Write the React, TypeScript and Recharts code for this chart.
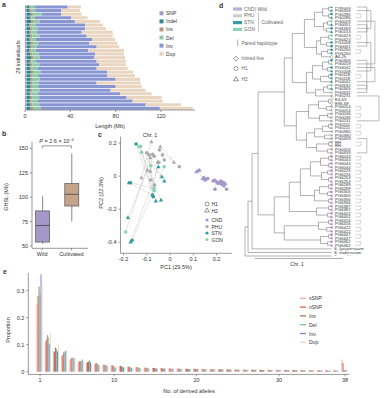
import React from "react";
import { BarChart, Bar, XAxis, YAxis, ComposedChart, ScatterChart, Scatter, ReferenceLine } from "recharts";

const FONT = "'Liberation Sans', Arial, sans-serif";
const INK = "#333";
const AX = { stroke: "#555", strokeWidth: 0.6 };
const tick = { fontSize: 5.5, fill: INK, fontFamily: FONT };

// ---- panel a: genome length per individual (Mb)
const aKeys = ["SNP", "Indel", "Ins", "Del", "Inv", "Dup"];
const aColors: Record<string, string> = {
  SNP: "#a399c9", Indel: "#2c8a8f", Ins: "#b9957a", Del: "#8dcaa5", Inv: "#8895d3", Dup: "#e9d5c0",
};
const aSNP = [1.5, 1.4, 1.6, 1.5, 1.7, 1.5, 1.6, 1.5, 1.6, 1.5, 1.7, 1.6, 1.5, 1.6, 1.7, 1.5, 1.6, 1.6, 1.5, 1.7, 1.6, 1.5, 1.6, 1.7, 1.5, 1.6, 1.5, 1.7, 1.6];
const aIndel = [2.4, 2.6, 3.5, 2.8, 4.0, 2.5, 3.0, 2.7, 3.2, 2.6, 3.4, 2.9, 2.5, 3.1, 3.6, 2.8, 3.3, 2.7, 3.8, 3.0, 3.4, 3.6, 2.9, 3.2, 2.8, 3.0, 2.7, 3.1, 3.3];
const aIns = [1.2, 1.5, 1.8, 1.3, 1.6, 1.4, 2.0, 1.5, 1.7, 1.4, 1.9, 1.6, 1.5, 1.8, 2.1, 1.4, 1.7, 1.6, 1.8, 1.5, 1.9, 1.7, 1.6, 1.8, 1.5, 1.7, 1.6, 1.9, 2.2];
const aDel = [3.8, 3.5, 7.8, 3.2, 5.5, 4.0, 4.8, 4.5, 6.2, 3.9, 4.8, 4.3, 4.0, 5.6, 5.5, 4.1, 6.0, 5.2, 6.6, 5.4, 6.2, 5.0, 5.6, 6.0, 5.8, 6.2, 5.5, 5.9, 7.0];
const aInv = [28.7, 22.8, 17.1, 31.8, 31.2, 43.6, 41.6, 39.8, 41.7, 50.0, 45.0, 52.8, 46.4, 49.7, 48.3, 53.4, 53.0, 52.1, 58.9, 61.0, 66.9, 51.4, 68.3, 62.9, 72.2, 77.2, 83.7, 93.9, 104.9];
const aDup = [11.8, 16.7, 18.2, 14.7, 22.0, 16.0, 18.5, 27.4, 23.0, 20.0, 24.7, 20.0, 31.5, 25.6, 27.0, 25.8, 23.4, 27.4, 23.0, 24.4, 21.5, 38.8, 23.0, 30.9, 28.0, 30.9, 26.5, 31.1, 29.0];
const aRows = aSNP.map((v, i) => ({
  id: i, SNP: v, Indel: aIndel[i], Ins: aIns[i], Del: aDel[i], Inv: aInv[i], Dup: aDup[i],
}));

// ---- panel b: box plot
const boxLabels = ["Wild", "Cultivated"];
const boxMin = [52, 75];
const boxQ1 = [54, 91];
const boxMed = [71, 103];
const boxQ3 = [86, 114];
const boxMax = [101, 145];
const boxColors = ["#a597c7", "#c6a48c"];
const bRows = boxLabels.map((name, i) => ({
  pos: i + 1, name, range: [boxMin[i], boxMax[i]], q1: boxQ1[i], med: boxMed[i], q3: boxQ3[i], fill: boxColors[i],
}));

// ---- panel c: PCA
const groupColors: Record<string, string> = { C: "#a597cc", P: "#aaaaaa", S: "#2f9aa0", G: "#8ad2b2", I: "#b5b5b5" };
const pcX = [-0.146, -0.133, -0.127, -0.122, -0.08, -0.042, -0.1, -0.09, -0.075, -0.068, -0.085, -0.046, -0.033, -0.025, -0.054, -0.048, 0.016, 0.04, -0.083, -0.025,
  -0.05, -0.097, -0.085, -0.123, -0.035, -0.025, -0.177, -0.17, -0.083, -0.068, -0.068, -0.07, -0.076, -0.072, -0.061, -0.039, -0.181, -0.191, -0.17, -0.163,
  0.113, 0.12, 0.127, 0.14, 0.149, 0.145, 0.155, 0.162, 0.185, 0.192, 0.2, 0.206, 0.212, 0.218, 0.222, 0.228, 0.232, 0.243, 0.193, 0.238];
const pcY = [0.194, 0.178, 0.18, 0.144, 0.208, 0.178, 0.14, 0.128, 0.132, 0.12, 0.112, 0.158, 0.127, 0.097, 0.083, 0.083, 0.083, 0.056, 0.062, 0.056,
  0.056, 0.036, 0.03, -0.01, -0.004, -0.03, -0.04, -0.04, -0.024, -0.055, -0.089, -0.075, -0.115, -0.125, -0.15, -0.145, -0.25, -0.338, -0.398, -0.388,
  0.026, 0.032, 0.036, -0.014, -0.024, -0.01, -0.02, -0.015, -0.03, -0.025, -0.035, -0.045, -0.04, -0.03, -0.05, -0.038, -0.06, -0.08, -0.08, -0.045];
const pcGroup = "SGGGPPPPPPPPPPPPPPGGSPPPSSSSPPGGSSSSSGSS" + "CCCCCCCCCCCCCCCCCCCC";
const pcHap = "1111221111211121211122222221111111222121" + "22222111111111111112";
const pcPairs = [[0, 34], [1, 35], [38, 20], [39, 19], [37, 10], [36, 21], [26, 32], [4, 23], [5, 17], [3, 25], [6, 24], [14, 29], [11, 16], [18, 30], [2, 33], [7, 28], [12, 13], [8, 22], [27, 31], [15, 9], [45, 40], [50, 58]];
const pcPoints = pcX.map((x, i) => ({ x, y: pcY[i], g: pcGroup[i], h: pcHap[i] }));

// ---- panel d: cladogram (internal node label = node depth)
const cladeA = "((((0,1)84,(2,3)84)78,((4,5)83,(6,7)82)79)70,(((8,9)84,(10,11)82)76,((12,13)83,14)77)72)60";
const cladeB = "((((15,16)84,(17,18)83)78,((19,20)84,21)76)68,(((22,23)83,24)79,25)71)62";
const cladeP = "((((26,27)84,(28,29)82)74,((30,31)83,32)75)64,((((33,34)84,35)78,(36,37)80)70,((38,39)84,(40,41)83)72)62)52";
const cladeW = "((((((42,43)84,(44,45)84)76,((46,47)83,(48,49)84)77)66,(((50,51)84,(52,53)83)75,(54,55)84)70)56,((56,57)84,(58,59)83)72)45,(((60,61)84,(62,63)82)74,((64,65)84,(66,67)83)76)40)30";
const treeNewick = "((((((" + cladeA + "," + cladeB + ")48," + cladeP + ")40," + cladeW + ")14,68)8,69)4,70)1";
const leafNames = [
  "PG0153", "PG6359", "PG0286", "PG0286", "PG0019", "PG0051", "PG6359", "PG0153", "PG0423", "PG0423",
  "PG1008", "PG0051", "PG5250", "PG5250", "A6-26", "PG0305", "PG0019", "PG4042", "PG1008", "PG0118",
  "PG0118", "PG4042", "PG0532", "PG0305", "PG0532", "PG0231",
  "E4-63", "E86-69", "PG0014", "PG0014", "PG0036", "PG0036", "PG0231", "PG0211", "PG0211", "PG0390",
  "PG0390", "PG0459", "RH", "RH", "PG0416", "PG0459",
  "PG6043", "PG6043", "PG6044", "PG6044", "PG6226", "PG6226", "PG6253", "PG6253", "PG6289", "PG6289",
  "PG6305", "PG6305", "PG6356", "PG6356", "PG6387", "PG6387", "PG6402", "PG6402", "PG6416", "PG6416",
  "PG6422", "PG6422", "PG6447", "PG6447", "PG6462", "PG6462",
  "S. lycopersicum", "S. etuberosum", "S. wrightii",
];
const leafGroup = "SSSSGSSSGGSSSSISGSSSSSGSGP" + "IIPPPPPPPPPPPPPP" + "CCCCCCCCCCCCCCCCCCCCCCCCCC" + "OOO";
const leafHap = "12121212121112012121221221" + "0012122121211212" + "12121212121212121212121212" + "000";
const treePairs = [
  [2, 3, 0], [8, 9, 0], [12, 13, 0], [19, 20, 0], [28, 29, 0], [30, 31, 0], [33, 34, 0], [35, 36, 0], [38, 39, 0],
  [42, 43, 0], [44, 45, 0], [46, 47, 0], [48, 49, 0], [50, 51, 0], [52, 53, 0], [54, 55, 0], [56, 57, 0], [58, 59, 0],
  [60, 61, 0], [62, 63, 0], [64, 65, 0], [66, 67, 0],
  [0, 7, 1], [1, 6, 2], [4, 16, 3], [5, 11, 1], [10, 18, 2], [15, 23, 1], [17, 21, 3], [22, 24, 1], [25, 32, 4], [37, 41, 1],
];
const TIP = 87;

// ---- panel e: derived allele frequency spectrum
const eN = [1, 2, 3, 4, 5, 6, 7, 8, 9, 10, 11, 12, 13, 14, 15, 16, 17, 18, 19, 20, 21, 22, 23, 24, 25, 26, 27, 28, 29, 30, 31, 32, 33, 34, 35, 36, 37, 38];
const eSNPs = [0.25, 0.11, 0.075, 0.058, 0.045, 0.037, 0.033, 0.03, 0.027, 0.024, 0.021, 0.019, 0.017, 0.016, 0.015, 0.014, 0.013, 0.012, 0.012, 0.011, 0.011, 0.010, 0.010, 0.009, 0.009, 0.008, 0.008, 0.008, 0.007, 0.007, 0.007, 0.006, 0.006, 0.006, 0.006, 0.005, 0.006, 0.045];
const eNSNP = [0.28, 0.118, 0.075, 0.062, 0.047, 0.038, 0.035, 0.03, 0.026, 0.024, 0.021, 0.018, 0.017, 0.015, 0.014, 0.013, 0.012, 0.012, 0.011, 0.011, 0.010, 0.010, 0.009, 0.009, 0.008, 0.008, 0.008, 0.007, 0.007, 0.007, 0.006, 0.006, 0.006, 0.005, 0.005, 0.005, 0.005, 0.032];
const eIns = [0.315, 0.135, 0.09, 0.072, 0.053, 0.04, 0.038, 0.032, 0.025, 0.022, 0.02, 0.018, 0.016, 0.015, 0.014, 0.013, 0.012, 0.011, 0.011, 0.010, 0.010, 0.009, 0.009, 0.008, 0.008, 0.007, 0.007, 0.007, 0.006, 0.006, 0.006, 0.005, 0.005, 0.005, 0.005, 0.004, 0.004, 0.006];
const eDel = [0.29, 0.128, 0.085, 0.074, 0.052, 0.038, 0.042, 0.028, 0.022, 0.02, 0.018, 0.016, 0.015, 0.014, 0.013, 0.012, 0.011, 0.011, 0.010, 0.010, 0.009, 0.009, 0.008, 0.008, 0.007, 0.007, 0.007, 0.006, 0.006, 0.006, 0.005, 0.005, 0.005, 0.005, 0.004, 0.004, 0.004, 0.005];
const eInv = [0.36, 0.103, 0.076, 0.078, 0.05, 0.045, 0.035, 0.025, 0.023, 0.015, 0.016, 0.014, 0.013, 0.013, 0.012, 0.012, 0.011, 0.010, 0.010, 0.010, 0.009, 0.009, 0.008, 0.008, 0.008, 0.007, 0.007, 0.006, 0.006, 0.006, 0.006, 0.005, 0.005, 0.005, 0.005, 0.004, 0.004, 0.007];
const eDup = [0.33, 0.143, 0.098, 0.07, 0.052, 0.04, 0.03, 0.025, 0.022, 0.02, 0.017, 0.016, 0.015, 0.013, 0.013, 0.012, 0.011, 0.011, 0.010, 0.010, 0.009, 0.009, 0.008, 0.008, 0.008, 0.007, 0.007, 0.007, 0.006, 0.006, 0.006, 0.005, 0.005, 0.005, 0.004, 0.004, 0.004, 0.004];
const eKeys = ["sSNP", "nSNP", "Ins", "Del", "Inv", "Dup"];
const eColors: Record<string, string> = {
  sSNP: "#f4a7a7", nSNP: "#e0604f", Ins: "#a47b5e", Del: "#78c497", Inv: "#6f87d8", Dup: "#ecd6c0",
};
const eRows = eN.map((n, i) => ({
  n, sSNP: eSNPs[i], nSNP: eNSNP[i], Ins: eIns[i], Del: eDel[i], Inv: eInv[i], Dup: eDup[i],
}));

// ---------- helpers
function parseTree(s: string) {
  let i = 0;
  const num = () => {
    const j = i;
    while (i < s.length && /[0-9.]/.test(s[i])) i++;
    return parseFloat(s.slice(j, i));
  };
  const node = (): any => {
    if (s[i] === "(") {
      i++;
      const kids = [node()];
      while (s[i] === ",") { i++; kids.push(node()); }
      i++;
      return { kids, depth: num() };
    }
    return { leaf: num() };
  };
  return node();
}

function treeSegments() {
  const segs: { x1: number; y1: number; x2: number; y2: number }[] = [];
  const lay = (n: any) => {
    if (!n.kids) { n.x = TIP; n.y = n.leaf; return; }
    n.kids.forEach(lay);
    n.x = n.depth;
    const first = n.kids[0], last = n.kids[n.kids.length - 1];
    n.y = (first.y + last.y) / 2;
    segs.push({ x1: n.x, y1: first.y, x2: n.x, y2: last.y });
    n.kids.forEach((k: any) => segs.push({ x1: n.x, y1: k.y, x2: k.x, y2: k.y }));
  };
  lay(parseTree(treeNewick));
  return segs;
}
const treeSegs = treeSegments();
const treeLeaves = leafNames.map((name, i) => ({ x: TIP, y: i, name, g: leafGroup[i], h: leafHap[i] }));

function Marker({ cx, cy, g, h, r }: any) {
  const fill = groupColors[g] || "#999";
  if (g === "I") {
    return <polygon points={`${cx},${cy - r * 1.3} ${cx + r * 1.1},${cy} ${cx},${cy + r * 1.3} ${cx - r * 1.1},${cy}`} fill="#fff" stroke="#555" strokeWidth={0.4} />;
  }
  if (h === "2") {
    return <polygon points={`${cx},${cy - r * 1.25} ${cx + r * 1.15},${cy + r * 0.85} ${cx - r * 1.15},${cy + r * 0.85}`} fill={fill} stroke="none" />;
  }
  return <circle cx={cx} cy={cy} r={r} fill={fill} stroke="none" />;
}

function BoxShape(props: any) {
  const { x, y, width, height, payload } = props;
  const top = Math.min(y, y + height);
  const h = Math.abs(height);
  const [lo, hi] = payload.range;
  const py = (v: number) => top + (h * (hi - v)) / (hi - lo);
  const cx = x + width / 2;
  return (
    <g>
      <line x1={cx} x2={cx} y1={top} y2={top + h} stroke="#555" strokeWidth={0.7} />
      <rect x={x} y={py(payload.q3)} width={width} height={py(payload.q1) - py(payload.q3)} fill={payload.fill} stroke="#555" strokeWidth={0.7} />
      <line x1={x} x2={x + width} y1={py(payload.med)} y2={py(payload.med)} stroke="#444" strokeWidth={0.8} />
    </g>
  );
}

function ETick({ x, y, payload }: any) {
  if (![1, 10, 20, 30, 38].includes(payload.value)) return null;
  return (
    <text x={x} y={y} dy="0.71em" textAnchor="middle" fontSize={5.5} fill={INK} fontFamily={FONT}>{payload.value}</text>
  );
}

function T({ x, y, t, s = 5.5, a = "start", r = false, b = false, it = false, fill = INK }: any) {
  return (
    <text x={x} y={y} fontSize={s} textAnchor={a} dominantBaseline="central" fill={fill}
      fontWeight={b ? 700 : 400} fontStyle={it ? "italic" : "normal"}
      transform={r ? `rotate(-90 ${x} ${y})` : undefined}>{t}</text>
  );
}

const box = (left: number, top: number): React.CSSProperties => ({ position: "absolute", left, top });

export default function App() {
  return (
    <div style={{ position: "absolute", left: 0, top: 0, width: 390, height: 398, background: "#fff", fontFamily: FONT, overflow: "hidden" }}>
      {/* a */}
      <div style={box(0, 0)}>
        <BarChart width={200} height={130} data={aRows} layout="vertical" margin={{ top: 5, right: 5, left: 25, bottom: 0 }} barCategoryGap="12%">
          <XAxis type="number" domain={[0, 150]} ticks={[0, 40, 80, 120]} allowDataOverflow height={20} tick={tick} tickSize={2} tickLine={AX} axisLine={AX} />
          <YAxis type="category" dataKey="id" width={0} tick={false} tickLine={false} axisLine={AX} />
          {aKeys.map((k) => (
            <Bar key={k} dataKey={k} stackId="s" fill={aColors[k]} isAnimationActive={false} />
          ))}
        </BarChart>
      </div>

      {/* b */}
      <div style={box(0, 130)}>
        <ComposedChart width={95} height={130} data={bRows} margin={{ top: 11.7, right: 7, left: 0, bottom: 0 }}>
          <XAxis type="number" dataKey="pos" domain={[0.65, 2.57]} ticks={[1, 2]} allowDataOverflow tickFormatter={(v) => boxLabels[v - 1]} height={11.7} tick={tick} tickSize={2} tickLine={AX} axisLine={AX} />
          <YAxis type="number" domain={[47.6, 157]} ticks={[50, 75, 100, 125, 150]} allowDataOverflow width={32} tick={tick} tickSize={2} tickLine={AX} axisLine={AX} />
          <Bar dataKey="range" barSize={14} shape={BoxShape} isAnimationActive={false} />
          <ReferenceLine segment={[{ x: 1, y: 150 }, { x: 1, y: 152.7 }]} stroke="#555" strokeWidth={0.6} ifOverflow="visible" />
          <ReferenceLine segment={[{ x: 1, y: 152.7 }, { x: 2, y: 152.7 }]} stroke="#555" strokeWidth={0.6} ifOverflow="visible" />
          <ReferenceLine segment={[{ x: 2, y: 152.7 }, { x: 2, y: 150 }]} stroke="#555" strokeWidth={0.6} ifOverflow="visible" />
        </ComposedChart>
      </div>

      {/* c */}
      <div style={box(95, 130)}>
        <ScatterChart width={140} height={135} margin={{ top: 6.7, right: 3.3, left: 0, bottom: 0 }}>
          <XAxis type="number" dataKey="x" domain={[-0.213, 0.265]} ticks={[-0.2, -0.1, 0, 0.1, 0.2]} allowDataOverflow tickFormatter={(v) => (v === 0 ? "0" : v.toFixed(1))} height={11.7} tick={tick} tickSize={2} tickLine={AX} axisLine={AX} />
          <YAxis type="number" dataKey="y" domain={[-0.467, 0.238]} ticks={[-0.4, -0.2, 0, 0.2]} allowDataOverflow tickFormatter={(v) => (v === 0 ? "0" : v.toFixed(1))} width={25.5} tick={tick} tickSize={2} tickLine={AX} axisLine={AX} />
          {pcPairs.map(([i, j], k) => (
            <ReferenceLine key={k} segment={[{ x: pcX[i], y: pcY[i] }, { x: pcX[j], y: pcY[j] }]} stroke="#9a9a9a" strokeWidth={0.45} strokeDasharray="1 0.8" ifOverflow="visible" />
          ))}
          <Scatter data={pcPoints} isAnimationActive={false}
            shape={(p: any) => <Marker cx={p.cx} cy={p.cy} g={p.payload.g} h={p.payload.h} r={1.8} />} />
        </ScatterChart>
      </div>

      {/* d */}
      <div style={box(230, 0)}>
        <ScatterChart width={160} height={270} margin={{ top: 7, right: 0, left: 14, bottom: 14 }}>
          <XAxis type="number" dataKey="x" domain={[0, 145]} hide allowDataOverflow />
          <YAxis type="number" dataKey="y" domain={[0, 70]} reversed hide allowDataOverflow />
          {treeSegs.map((s, k) => (
            <ReferenceLine key={"t" + k} segment={[{ x: s.x1, y: s.y1 }, { x: s.x2, y: s.y2 }]} stroke="#7d7d7d" strokeWidth={0.6} ifOverflow="visible" />
          ))}
          {treePairs.map(([i, j, lane], k) => {
            const xc = lane === 0 ? 116 : 118 + lane * 4;
            const dash = lane === 0 ? "1 0.8" : undefined;
            const x0 = lane === 0 ? 111 : 112;
            return (
              <React.Fragment key={"p" + k}>
                <ReferenceLine segment={[{ x: x0, y: i }, { x: xc, y: i }]} stroke="#666" strokeWidth={0.45} strokeDasharray={dash} ifOverflow="visible" />
                <ReferenceLine segment={[{ x: xc, y: i }, { x: xc, y: j }]} stroke="#666" strokeWidth={0.45} strokeDasharray={dash} ifOverflow="visible" />
                <ReferenceLine segment={[{ x: x0, y: j }, { x: xc, y: j }]} stroke="#666" strokeWidth={0.45} strokeDasharray={dash} ifOverflow="visible" />
              </React.Fragment>
            );
          })}
          <Scatter data={treeLeaves} isAnimationActive={false}
            shape={(p: any) => {
              const d = p.payload;
              const out = d.g === "O";
              return (
                <g>
                  {!out && <Marker cx={p.cx} cy={p.cy} g={d.g} h={d.h} r={1.3} />}
                  <text x={p.cx + (out ? 2.5 : 3.5)} y={p.cy} dominantBaseline="central" fontSize={4.2} fill={INK} fontFamily={FONT} fontStyle={out ? "italic" : "normal"}>{d.name}</text>
                </g>
              );
            }} />
        </ScatterChart>
      </div>

      {/* e */}
      <div style={box(0, 268)}>
        <BarChart width={390} height={130} data={eRows} margin={{ top: 5, right: 40.9, left: 0, bottom: 0 }} barCategoryGap="8%" barGap={0}>
          <XAxis type="number" dataKey="n" domain={[-0.42, 38.5]} ticks={[1, 10, 20, 30, 38]} allowDataOverflow height={23.6} tick={tick} tickSize={2} tickLine={AX} axisLine={AX} />
          <YAxis type="number" domain={[-0.0099, 0.365]} ticks={[0, 0.1, 0.2, 0.3]} allowDataOverflow width={28.3} tick={tick} tickSize={2} tickLine={AX} axisLine={AX} />
          {eKeys.map((k) => (
            <Bar key={k} dataKey={k} fill={eColors[k]} isAnimationActive={false} />
          ))}
        </BarChart>
      </div>

      {/* text, legends */}
      <svg width={390} height={398} style={{ position: "absolute", left: 0, top: 0, pointerEvents: "none" }} fontFamily={FONT}>
        <T x={2} y={4} t="a" s={7} b />
        <T x={2} y={133} t="b" s={7} b />
        <T x={98} y={134} t="c" s={7} b />
        <T x={219} y={5} t="d" s={7} b />
        <T x={3} y={271} t="e" s={7} b />

        <T x={18} y={57} t="29 individuals" a="middle" r />
        <T x={110} y={125.5} t="Length (Mb)" a="middle" />
        {aKeys.map((k, i) => (
          <g key={k}>
            <rect x={159.5} y={13.3 + i * 8.08 - 2} width={4} height={4} fill={aColors[k]} />
            <T x={166} y={13.3 + i * 8.08} t={k} s={5} />
          </g>
        ))}

        <T x={6} y={197} t="GHSL (Mb)" a="middle" r />
        <text x={56.5} y={141.3} fontSize={5.5} textAnchor="middle" dominantBaseline="central" fill={INK}>
          <tspan fontStyle="italic">P</tspan> = 2.6 × 10<tspan fontSize={3.8} dy={-1.8}>−4</tspan>
        </text>

        <T x={150} y={135} t="Chr. 1" a="middle" />
        <T x={101} y={193} t="PC2 (22.3%)" a="middle" r />
        <T x={176} y={267} t="PC1 (29.5%)" a="middle" />
        <circle cx={207} cy={204} r={2} fill="none" stroke="#333" strokeWidth={0.5} />
        <T x={211.5} y={204} t="H1" s={5} />
        <polygon points="207,208 209.3,212 204.7,212" fill="none" stroke="#333" strokeWidth={0.5} />
        <T x={211.5} y={210.5} t="H2" s={5} />
        {[["C", "CND"], ["P", "PHU"], ["S", "STN"], ["G", "GON"]].map(([g, name], i) => (
          <g key={g}>
            <circle cx={207} cy={220 + i * 6.5} r={1.6} fill={groupColors[g]} />
            <T x={211.5} y={220 + i * 6.5} t={name} s={5} />
          </g>
        ))}

        {[["#b9afd9", "CND"], ["#cfcfcf", "PHU"], ["#3a9ca3", "STN"], ["#8fd3b5", "GON"]].map(([c, name], i) => (
          <g key={name}>
            <rect x={233} y={9 + i * 6.8 - 1.6} width={9} height={3.2} fill={c} />
            <T x={244} y={9 + i * 6.8} t={name} s={4.8} fill="#666" />
          </g>
        ))}
        <T x={255} y={9} t="| Wild" s={4.8} fill="#666" />
        <line x1={258.5} x2={258.5} y1={13} y2={31.5} stroke="#888" strokeWidth={0.5} />
        <T x={261.5} y={22.4} t="Cultivated" s={4.8} fill="#666" />
        <line x1={237.7} x2={237.7} y1={39.5} y2={46} stroke="#555" strokeWidth={0.5} />
        <T x={241.5} y={43} t="Paired haplotype" s={4.8} fill="#666" />
        <polygon points="236,56.2 238.4,58.7 236,61.2 233.6,58.7" fill="none" stroke="#333" strokeWidth={0.5} />
        <T x={241.5} y={58.7} t="Inbred line" s={4.8} fill="#666" />
        <circle cx={236} cy={68.5} r={2} fill="none" stroke="#333" strokeWidth={0.5} />
        <T x={241.5} y={68.5} t="H1" s={4.8} fill="#666" />
        <polygon points="236,76.6 238.5,80.8 233.5,80.8" fill="none" stroke="#333" strokeWidth={0.5} />
        <T x={241.5} y={79} t="H2" s={4.8} fill="#666" />
        <line x1={255} x2={343} y1={258.5} y2={258.5} stroke="#777" strokeWidth={0.6} />
        <T x={297} y={263.5} t="Chr. 1" s={5} a="middle" />

        <T x={7.5} y={330} t="Proportion" a="middle" r />
        <T x={189} y={391} t="No. of derived alleles" a="middle" />
        {eKeys.map((k, i) => (
          <g key={k}>
            <line x1={300} x2={306} y1={298.3 + i * 8.8} y2={298.3 + i * 8.8} stroke={eColors[k]} strokeWidth={1.3} />
            <T x={309} y={298.3 + i * 8.8} t={k} s={5} />
          </g>
        ))}
      </svg>
    </div>
  );
}
